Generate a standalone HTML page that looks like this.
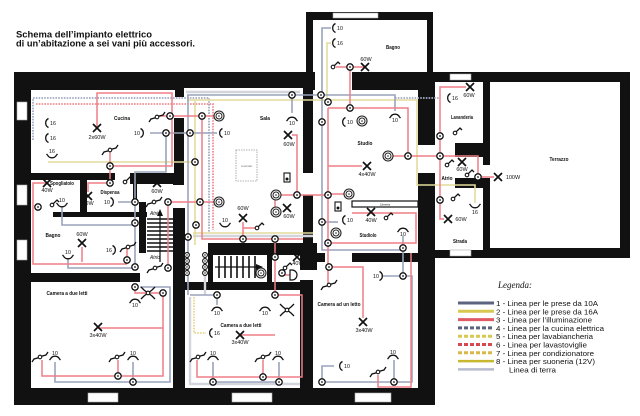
<!DOCTYPE html>
<html><head><meta charset="utf-8">
<style>
html,body{margin:0;padding:0;background:#fff;}
svg{display:block}
text{font-family:"Liberation Sans",sans-serif;fill:#111}
.r{stroke:#ee7f86;stroke-width:1.5;fill:none}
.g{stroke:#9aa3bc;stroke-width:1.6;fill:none}
.e{stroke:#d2d5dc;stroke-width:2.4;fill:none}
.y{stroke:#e3dc9c;stroke-width:1.6;fill:none}
.dg{stroke:#a4abc2;stroke-width:1.8;stroke-dasharray:1.6 1.2;fill:none}
.dr{stroke:#ef8c92;stroke-width:1.8;stroke-dasharray:1.6 1.2;fill:none}
.dy{stroke:#e6d98a;stroke-width:1.8;stroke-dasharray:1.6 1.2;fill:none}
.s{stroke:#111;stroke-width:1.3;fill:none}
.lb{font-size:5px;font-weight:bold}
.w{font-size:5.5px}
.n{font-size:5.3px}
.lg{font-size:7.4px;fill:#222}
</style></head><body>
<svg width="640" height="416" viewBox="0 0 640 416" xmlns="http://www.w3.org/2000/svg">
<defs>
<g id="j"><circle r="3.2" fill="#fff" stroke="#111" stroke-width="1.3"/><circle r="0.9" fill="#111"/></g>
<g id="js"><circle r="2.4" fill="#fff" stroke="#111" stroke-width="1.1"/><circle r="0.7" fill="#111"/></g>
<g id="dc"><circle r="5" fill="#fff" stroke="#222" stroke-width="1.1"/><circle r="3" fill="none" stroke="#222" stroke-width="1"/><circle r="0.8" fill="#222"/></g>
<g id="lx"><path d="M-4,-4L4,4M4,-4L-4,4" stroke="#111" stroke-width="1.7"/></g>
<g id="sL"><path d="M2.5,-4.5A5,5 0 0 0 2.5,4.5" class="s"/></g>
<g id="sR"><path d="M-2.5,-4.5A5,5 0 0 1 -2.5,4.5" class="s"/></g>
<g id="sU"><path d="M-4.5,-2A5,5 0 0 0 4.5,-2M-4.5,-2l-1,-1M4.5,-2l1,-1" class="s"/></g>
<g id="sD"><path d="M-4.5,2A5,5 0 0 1 4.5,2M-4.5,2l-1,1M4.5,2l1,1" class="s"/></g>
<g id="sw"><path d="M1.3,-1.3L5,-5L7,-3" class="s"/><circle r="1.8" fill="#fff" stroke="#111" stroke-width="1.1"/></g>
<g id="sw2"><path d="M-8,5L-6,2L-1.4,0.8M1.4,-0.8L6,-2L8,-5" class="s"/><circle r="1.8" fill="#fff" stroke="#111" stroke-width="1.1"/></g>
<g id="swx"><path d="M-7,-6L-4,-3L4,3L7,6M-7,6L-4,3L4,-3L7,-6" class="s"/><circle r="1.8" fill="#fff" stroke="#111" stroke-width="1.1"/></g>
</defs>

<!-- building -->
<path d="M14,72H306V12H433V72H630V258H435V405H14Z" fill="#111"/>

<!-- rooms (white) -->
<g fill="#fff">
<rect x="31" y="90" width="272" height="83"/>
<rect x="184" y="88" width="119" height="155"/>
<rect x="303" y="173" width="10" height="22"/>
<rect x="313" y="90" width="105" height="163"/>
<rect x="315" y="72" width="37" height="18"/>
<rect x="313" y="20" width="114" height="52"/>
<rect x="435" y="82" width="48" height="168"/>
<rect x="418" y="145" width="17" height="28"/>
<rect x="490" y="82" width="130" height="166"/>
<rect x="483" y="165" width="7" height="13"/>
<rect x="31" y="173" width="142" height="100"/>
<rect x="31" y="282" width="142" height="106"/>
<rect x="140" y="273" width="33" height="9"/>
<rect x="173" y="185" width="12" height="23"/>
<rect x="185" y="243" width="118" height="39"/>
<rect x="185" y="290" width="115" height="98"/>
<rect x="303" y="262" width="115" height="126"/>
<rect x="325" y="253" width="27" height="9"/>
</g>
<!-- interior walls -->
<g fill="#111">
<rect x="175" y="88" width="9" height="9"/>
<rect x="174" y="118" width="10" height="67"/>
<rect x="31" y="173" width="84" height="7"/>
<rect x="130" y="173" width="54" height="11"/>
<rect x="80" y="180" width="7" height="32"/>
<rect x="133" y="180" width="4" height="20"/>
<rect x="139" y="202" width="7" height="51"/>
<rect x="53" y="212" width="94" height="5"/>
<rect x="31" y="273" width="109" height="9"/>
<rect x="173" y="208" width="12" height="180"/>
<rect x="208" y="243" width="95" height="12"/>
<rect x="208" y="255" width="5" height="27"/>
<rect x="267" y="255" width="5" height="27"/>
<rect x="173" y="282" width="127" height="8"/>
<rect x="303" y="195" width="10" height="67"/>
<rect x="300" y="243" width="17" height="27"/>
<rect x="300" y="280" width="13" height="108"/>
<rect x="352" y="253" width="66" height="9"/>
<rect x="455" y="143" width="35" height="14"/>
<rect x="455" y="178" width="35" height="10"/>
</g>
<!-- windows -->
<g fill="#fff" stroke="#aaa" stroke-width="0.6">
<rect x="17" y="102" width="10" height="18"/>
<rect x="17" y="185" width="10" height="20"/>
<rect x="17" y="240" width="10" height="20"/>
<rect x="88" y="393" width="30" height="9"/>
<rect x="232" y="393" width="40" height="9"/>
<rect x="355" y="393" width="36" height="9"/>
<rect x="333" y="13" width="45" height="5"/>
<rect x="450" y="74" width="21" height="6"/>
<rect x="450" y="250" width="21" height="6"/>
</g>

<!-- stairs left -->
<g stroke="#111" stroke-width="1.6">
<path d="M147,219H173M147,223H173M147,227H173M147,231H173M147,235H173M147,239H173M147,243H173M147,247H173M147,251H173"/>
<path d="M160,262V214" stroke-width="1.2"/>
</g>
<path d="M157,216L160,209L163,216Z" fill="#111"/>
<!-- stairs middle -->
<g stroke="#111" stroke-width="1.6">
<path d="M219,256V278M225,256V278M231,256V278M237,256V278M243,256V278M249,256V278M255,256V278"/>
<path d="M215,267H258" stroke-width="1.3"/>
</g>
<path d="M256,264L263,267L256,270Z" fill="#111"/>

<!-- wires -->
<path class="e" d="M190,297V384H300"/>
<path class="e" d="M205,262V295"/>
<path class="e" d="M193,236H313"/>
<path class="e" d="M186,92H300"/>
<path class="dg" d="M33,140V98H209V232"/>
<path class="dr" d="M36,104H213V230"/>
<path class="dg" d="M395,98H440"/>
<path class="dy" d="M194,297V333H206"/>
<path class="y" d="M48,162H195"/>
<path class="y" d="M187,100H417V185H475V203"/>
<path class="y" d="M195,100V245"/>
<path class="y" d="M193,233H313"/>
<path class="y" d="M331,43H327V100"/>
<path class="g" d="M150,133H217"/>
<path class="g" d="M166,133V172H135V268"/>
<path class="g" d="M187,95H395V111"/>
<path class="g" d="M292,95V113"/>
<path class="g" d="M188,95V295"/>
<path class="g" d="M331,28H322V250H403"/>
<path class="g" d="M403,236V276"/>
<path class="g" d="M322,222H338"/>
<path class="g" d="M62,207V225H135"/>
<path class="g" d="M68,258V268H135"/>
<path class="g" d="M118,202H135"/>
<path class="g" d="M55,362V382H170V287H140"/>
<path class="g" d="M133,362V382"/>
<path class="g" d="M190,295H217V305"/>
<path class="g" d="M213,362V382H279V362"/>
<path class="g" d="M382,276H412V382H322V366H334"/>
<path class="g" d="M394,382V360"/>
<path class="r" d="M97,128V93H172V166H110"/>
<path class="r" d="M110,152V166"/>
<path class="r" d="M157,116H219"/>
<path class="r" d="M202,116V239H303"/>
<path class="r" d="M292,135H297V195"/>
<path class="r" d="M275,195H328"/>
<path class="r" d="M275,195V212"/>
<path class="r" d="M243,222V239M257,228H243"/>
<path class="r" d="M168,202H219"/>
<path class="r" d="M168,202V268"/>
<path class="r" d="M336,67H365M350,67V108"/>
<path class="r" d="M328,108H408V156"/>
<path class="r" d="M328,108V285"/>
<path class="r" d="M328,166H362"/>
<path class="r" d="M388,156H478V177H494"/>
<path class="r" d="M466,87H440V219H444"/>
<path class="r" d="M328,243H416V213H352" stroke-width="2"/>
<path class="r" d="M349,194H328"/>
<path class="r" d="M47,183H33V264H127"/>
<path class="r" d="M127,247V262M82,247V262"/>
<path class="r" d="M88,192V183H110V166"/>
<path class="r" d="M163,293V376H42V360M118,376V360M98,328H163M135,287V293H163"/>
<path class="r" d="M275,239V295H302V377H197V360M263,360V377M240,335H275"/>
<path class="r" d="M328,267H363V318"/>
<path class="r" d="M411,253V387H378V375"/>
<path class="r" d="M280,275H293"/>

<!-- misc boxes -->
<rect x="236" y="150" width="21" height="31" fill="none" stroke="#999" stroke-width="0.8" stroke-dasharray="1.5 1"/>
<text x="246.5" y="167" text-anchor="middle" style="font-size:2.5px;fill:#666">Lucernaio</text>
<rect x="352" y="201" width="66" height="6" fill="#fff" stroke="#111" stroke-width="1.2"/>
<text x="385" y="205.5" text-anchor="middle" style="font-size:3px">Libreria</text>
<rect x="284" y="173" width="6" height="9" fill="#fff" stroke="#111" stroke-width="1.1"/>
<circle cx="287" cy="179" r="1.5" fill="#111"/>
<rect x="335" y="202" width="6" height="9" fill="#fff" stroke="#111" stroke-width="1.1"/>
<circle cx="338" cy="208" r="1.5" fill="#111"/>
<path d="M290,270H292A5,5 0 0 1 292,280H290Z" fill="#fff" stroke="#111" stroke-width="1.2"/>

<!-- junctions -->
<g>
<use href="#j" x="170" y="116"/><use href="#j" x="166" y="133"/><use href="#j" x="190" y="133"/><use href="#j" x="110" y="166"/><use href="#j" x="202" y="116"/>
<use href="#j" x="195" y="162"/><use href="#j" x="292" y="95"/><use href="#j" x="321" y="95"/><use href="#j" x="297" y="195"/><use href="#j" x="243" y="239"/><use href="#j" x="275" y="239"/><use href="#j" x="168" y="202"/><use href="#j" x="200" y="202"/><use href="#j" x="196" y="225"/><use href="#j" x="188" y="237"/>
<use href="#j" x="350" y="67"/>
<use href="#j" x="328" y="102"/><use href="#j" x="322" y="122"/><use href="#j" x="350" y="108"/><use href="#j" x="408" y="156"/><use href="#j" x="440" y="156"/><use href="#j" x="328" y="195"/><use href="#j" x="322" y="222"/><use href="#j" x="328" y="243"/><use href="#j" x="403" y="248"/>
<use href="#j" x="440" y="136"/><use href="#j" x="478" y="177"/><use href="#j" x="440" y="200"/>
<use href="#j" x="38" y="207"/><use href="#j" x="110" y="183"/><use href="#j" x="135" y="202"/><use href="#j" x="127" y="260"/><use href="#j" x="135" y="267"/><use href="#j" x="135" y="223"/>
<use href="#j" x="135" y="287"/><use href="#j" x="163" y="293"/><use href="#j" x="118" y="376"/><use href="#j" x="133" y="382"/>
<use href="#j" x="217" y="295"/><use href="#j" x="275" y="295"/><use href="#j" x="213" y="382"/><use href="#j" x="263" y="377"/><use href="#j" x="279" y="382"/><use href="#j" x="282" y="273"/><use href="#j" x="275" y="257"/><use href="#j" x="168" y="268"/>
<use href="#j" x="329" y="267"/><use href="#j" x="403" y="276"/><use href="#j" x="322" y="382"/><use href="#j" x="394" y="382"/>
<use href="#js" x="187" y="255"/><use href="#js" x="187" y="261"/><use href="#js" x="187" y="267"/><use href="#js" x="187" y="273"/>
<use href="#js" x="205" y="255"/><use href="#js" x="205" y="261"/><use href="#js" x="205" y="267"/><use href="#js" x="205" y="273"/>
</g>
<!-- double circles -->
<use href="#dc" x="219" y="116"/><use href="#dc" x="219" y="202"/><use href="#dc" x="362" y="121"/><use href="#dc" x="276" y="195"/><use href="#dc" x="276" y="212"/><use href="#dc" x="388" y="156"/><use href="#dc" x="349" y="194"/><use href="#dc" x="336" y="233"/><use href="#dc" x="261" y="273"/>

<!-- lamps -->
<use href="#lx" x="97" y="128"/><use href="#lx" x="288" y="135"/><use href="#lx" x="365" y="67"/><use href="#lx" x="470" y="87"/><use href="#lx" x="462" y="162"/><use href="#lx" x="498" y="177"/><use href="#lx" x="448" y="219"/><use href="#lx" x="367" y="166"/><use href="#lx" x="371" y="212"/><use href="#lx" x="287" y="208"/><use href="#lx" x="243" y="218"/><use href="#lx" x="297" y="257"/><use href="#lx" x="157" y="183"/><use href="#lx" x="47" y="183"/><use href="#lx" x="88" y="196"/><use href="#lx" x="82" y="243"/><use href="#lx" x="98" y="327"/><use href="#lx" x="240" y="335"/><use href="#lx" x="363" y="322"/>
<g class="w" text-anchor="middle">
<text x="97" y="139">2x60W</text><text x="289" y="146">60W</text><text x="366" y="61">60W</text><text x="469" y="97">60W</text><text x="462" y="171">60W</text><text x="513" y="179">100W</text><text x="461" y="221">60W</text><text x="367" y="176">4x40W</text><text x="371" y="222">40W</text><text x="289" y="218">60W</text><text x="243" y="210">60W</text><text x="298" y="265">40W</text><text x="157" y="193">60W</text><text x="47" y="192">40W</text><text x="88" y="205">40W</text><text x="82" y="236">60W</text><text x="98" y="337">3x40W</text><text x="240" y="344">3x40W</text><text x="364" y="332">3x40W</text>
</g>

<!-- sockets -->
<use href="#sL" x="46" y="123"/><use href="#sL" x="46" y="138"/><use href="#sL" x="333" y="28"/><use href="#sL" x="333" y="43"/><use href="#sL" x="220" y="133"/><use href="#sL" x="343" y="122"/><use href="#sL" x="343" y="220"/><use href="#sL" x="448" y="98"/><use href="#sL" x="210" y="333"/><use href="#sL" x="340" y="366"/>
<use href="#sR" x="143" y="133"/><use href="#sR" x="113" y="202"/><use href="#sR" x="115" y="250"/><use href="#sR" x="382" y="276"/>
<use href="#sD" x="292" y="118"/><use href="#sD" x="395" y="115"/><use href="#sD" x="403" y="229"/><use href="#sD" x="393" y="356"/><use href="#sD" x="217" y="308"/><use href="#sD" x="265" y="308"/><use href="#sD" x="135" y="300"/><use href="#sD" x="55" y="357"/><use href="#sD" x="133" y="357"/><use href="#sD" x="213" y="357"/><use href="#sD" x="278" y="357"/>
<use href="#sU" x="52" y="157"/><use href="#sU" x="62" y="206"/><use href="#sU" x="68" y="258"/><use href="#sU" x="475" y="207"/><use href="#sU" x="225" y="226"/>
<g class="n">
<text x="50" y="125">16</text><text x="50" y="140">16</text><text x="337" y="30">10</text><text x="337" y="45">16</text><text x="224" y="135">10</text><text x="347" y="124">10</text><text x="347" y="222">10</text><text x="452" y="100">16</text><text x="214" y="335">16</text><text x="344" y="368">10</text>
<text x="134" y="135">10</text><text x="104" y="204">10</text><text x="106" y="252">16</text><text x="373" y="278">10</text>
</g>
<g class="n" text-anchor="middle">
<text x="292" y="125">10</text><text x="395" y="122">10</text><text x="403" y="236">10</text><text x="393" y="354">10</text><text x="217" y="315">10</text><text x="265" y="315">10</text><text x="135" y="307">10</text><text x="55" y="355">10</text><text x="133" y="355">10</text><text x="213" y="355">10</text><text x="278" y="355">10</text>
<text x="52" y="153">16</text><text x="62" y="202">10</text><text x="68" y="254">10</text><text x="475" y="214">16</text><text x="225" y="222">10</text>
</g>

<!-- switches -->
<use href="#sw" x="52" y="205"/><use href="#sw" x="125" y="182"/><use href="#sw" x="455" y="133"/><use href="#sw" x="447" y="165"/><use href="#sw" x="467" y="175"/><use href="#sw" x="453" y="199"/><use href="#sw" x="386" y="218"/><use href="#sw" x="257" y="228"/><use href="#sw" x="285" y="268"/><use href="#sw" x="333" y="67"/>
<use href="#sw2" x="157" y="117"/><use href="#sw2" x="110" y="150"/><use href="#sw2" x="154" y="202"/><use href="#sw2" x="155" y="268"/><use href="#sw2" x="128" y="247"/><use href="#sw2" x="40" y="357"/><use href="#sw2" x="117" y="357"/><use href="#sw2" x="198" y="357"/><use href="#sw2" x="263" y="357"/><use href="#sw2" x="329" y="285"/><use href="#sw2" x="378" y="372"/>
<use href="#swx" x="148" y="293"/><use href="#swx" x="287" y="310"/>

<!-- room labels -->
<g class="lb" text-anchor="middle">
<text x="122" y="120" textLength="16" lengthAdjust="spacingAndGlyphs">Cucina</text>
<text x="265" y="120" textLength="10" lengthAdjust="spacingAndGlyphs">Sala</text>
<text x="365" y="145" textLength="15" lengthAdjust="spacingAndGlyphs">Studio</text>
<text x="393" y="49" textLength="14" lengthAdjust="spacingAndGlyphs">Bagno</text>
<text x="462" y="119" textLength="22" lengthAdjust="spacingAndGlyphs">Lavanderia</text>
<text x="559" y="161" textLength="19" lengthAdjust="spacingAndGlyphs">Terrazzo</text>
<text x="447" y="180" textLength="11" lengthAdjust="spacingAndGlyphs">Atrio</text>
<text x="460" y="243" textLength="14" lengthAdjust="spacingAndGlyphs">Strada</text>
<text x="368" y="237" textLength="17" lengthAdjust="spacingAndGlyphs">Studiolo</text>
<text x="62" y="185" textLength="24" lengthAdjust="spacingAndGlyphs">Spogliatoio</text>
<text x="110" y="194" textLength="19" lengthAdjust="spacingAndGlyphs">Dispensa</text>
<text x="53" y="237" textLength="15" lengthAdjust="spacingAndGlyphs">Bagno</text>
<text x="155" y="215" textLength="10" lengthAdjust="spacingAndGlyphs" style="font-weight:normal;font-style:italic">Atrio</text>
<text x="155" y="259" textLength="10" lengthAdjust="spacingAndGlyphs" style="font-weight:normal;font-style:italic">Atrio</text>
<text x="67" y="295" textLength="41" lengthAdjust="spacingAndGlyphs">Camera a due letti</text>
<text x="241" y="327" textLength="41" lengthAdjust="spacingAndGlyphs">Camera a due letti</text>
<text x="339" y="306" textLength="43" lengthAdjust="spacingAndGlyphs">Camera ad un letto</text>
</g>

<!-- title -->
<text x="16" y="37.5" style="font-size:9px;font-weight:bold" textLength="136" lengthAdjust="spacingAndGlyphs">Schema dell’impianto elettrico</text>
<text x="16" y="46.5" style="font-size:9px;font-weight:bold" textLength="179" lengthAdjust="spacingAndGlyphs">di un’abitazione a sei vani più accessori.</text>

<!-- legend -->
<text x="498" y="288" style="font-family:'Liberation Serif',serif;font-style:italic;font-size:9.5px" textLength="34" lengthAdjust="spacingAndGlyphs">Legenda:</text>
<g stroke-width="3" fill="none">
<path d="M458,303H494" stroke="#5c6480"/>
<path d="M458,311.3H494" stroke="#d8c850"/>
<path d="M458,319.6H494" stroke="#e05a64"/>
<path d="M458,327.9H494" stroke="#5c6480" stroke-dasharray="4 2"/>
<path d="M458,336.2H494" stroke="#d8c850" stroke-dasharray="4 2"/>
<path d="M458,344.5H494" stroke="#d84850" stroke-dasharray="4 2"/>
<path d="M458,352.8H494" stroke="#d8b848" stroke-dasharray="4 2"/>
<path d="M458,361.1H494" stroke="#c8b830" stroke-width="2.5"/>
<path d="M458,369.4H494" stroke="#b8bccc" stroke-width="2.5"/>
</g>
<g class="lg">
<text x="496" y="306" textLength="102" lengthAdjust="spacingAndGlyphs">1 - Linea per le prese da 10A</text>
<text x="496" y="314.3" textLength="102" lengthAdjust="spacingAndGlyphs">2 - Linea per le prese da 16A</text>
<text x="496" y="322.6" textLength="96" lengthAdjust="spacingAndGlyphs">3 - Linea per l’illuminazione</text>
<text x="496" y="330.9" textLength="108" lengthAdjust="spacingAndGlyphs">4 - Linea per la cucina elettrica</text>
<text x="496" y="339.2" textLength="97" lengthAdjust="spacingAndGlyphs">5 - Linea per lavabiancheria</text>
<text x="496" y="347.5" textLength="91" lengthAdjust="spacingAndGlyphs">6 - Linea per lavastoviglie</text>
<text x="496" y="355.8" textLength="98" lengthAdjust="spacingAndGlyphs">7 - Linea per condizionatore</text>
<text x="496" y="364.1" textLength="99" lengthAdjust="spacingAndGlyphs">8 - Linea per suoneria (12V)</text>
<text x="509" y="372.4" textLength="47" lengthAdjust="spacingAndGlyphs">Linea di terra</text>
</g>
</svg>
</body></html>
